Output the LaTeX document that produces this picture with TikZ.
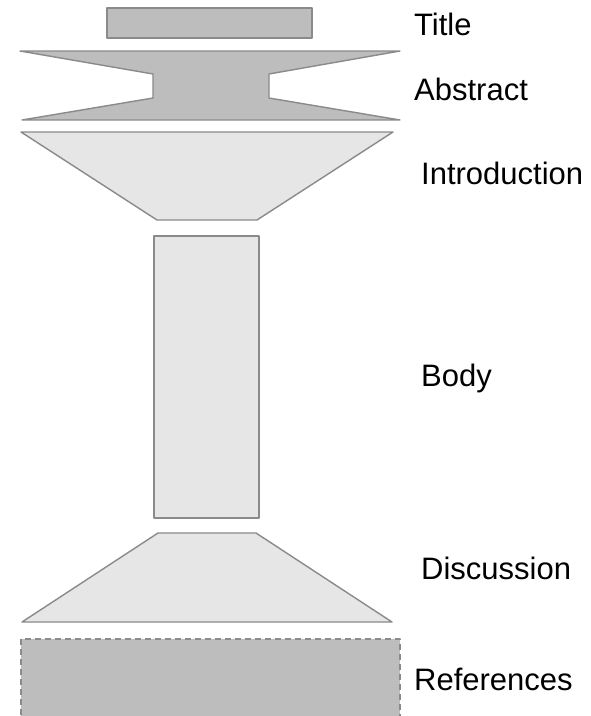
\documentclass[tikz,border=0pt]{standalone}
\usepackage{fontspec}
\setmainfont{Liberation Sans}
\definecolor{darkpart}{HTML}{BDBDBD}
\definecolor{lightpart}{HTML}{E6E6E6}
\definecolor{partline}{HTML}{8A8A8A}
\tikzset{
  darkblock/.style={draw=partline,fill=darkpart,line width=1.4pt},
  lightblock/.style={draw=partline,fill=lightpart,line width=1.4pt},
  partlabel/.style={anchor=base west,inner sep=0pt}
}
\begin{document}
\begin{tikzpicture}[x=1pt,y=-1pt,line join=round,font=\fontsize{31}{33}\selectfont]
			\useasboundingbox (0,0) rectangle (591,716);
			% blocks
			\draw[darkblock] (107,8) rectangle (312,38);
			\draw[darkblock] (20,51)--(400,51)--(269,74)--(269,98)--(400,120)--(22,120)--(153,98)--(153,74)--cycle;
			\draw[lightblock] (21,132)--(393,132)--(257,220)--(157,220)--cycle;
			\draw[lightblock] (154,236) rectangle (259,518);
			\draw[lightblock] (158,533)--(256,533)--(392,622)--(22,622)--cycle;
			\draw[darkblock,dash pattern=on 6pt off 4pt] (21,639) rectangle (400,720);
			% labels
			\node[partlabel] (title) at (414,35) {Title};
			\node[partlabel] (abstract) at (414,100) {Abstract};
			\node[partlabel] (intro) at (421,184) {Introduction};
			\node[partlabel] (body) at (421,386) {Body};
			\node[partlabel] (discussion) at (421,579) {Discussion};
			\node[partlabel] (references) at (414,690) {References};
\end{tikzpicture}
\end{document}
